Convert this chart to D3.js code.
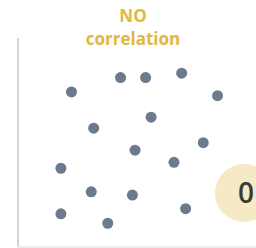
<!DOCTYPE html>
<html>
<head>
<meta charset="utf-8">
<script src="https://cdn.jsdelivr.net/npm/d3@7"></script>
<style>
  html, body { margin: 0; padding: 0; background: #fff; }
  svg { display: block; }
</style>
</head>
<body>
<div id="chart"></div>
<script>
// scatter points
const xs = [2.43, 4.66, 5.80, 7.44, 9.07, 3.44, 6.05, 5.32, 7.09, 8.42, 1.95, 3.33, 5.20, 1.95, 4.08, 7.62];
const ys = [7.05, 7.70, 7.70, 7.90, 6.88, 5.40, 5.90, 4.40, 3.85, 4.74, 3.58, 2.51, 2.36, 1.51, 1.08, 1.74];
const titleLines = ["NO", "correlation"];
const badge = "0";

const width = 256, height = 248;

const svg = d3.select('#chart').append('svg')
    .attr("width", width)
    .attr("height", height);

const x = d3.scaleLinear().domain([0, 10]).range([18, 238]);
const y = d3.scaleLinear().domain([0, 10]).range([247, 27]);

// axes: just the plain lines, no ticks
svg.append("g")
    .attr("transform", "translate(" + x(0) + ",0)")
    .call(d3.axisLeft(y).ticks(0).tickSizeOuter(0))
    .call(g => g.select(".domain").attr("stroke", "#c4c4c4").attr("stroke-width", 1.5)
        .attr("d", "M0," + (y(0)) + "V38"));

svg.append("g")
    .attr("transform", "translate(0," + y(0) + ")")
    .call(d3.axisBottom(x).ticks(0).tickSizeOuter(0))
    .call(g => g.select(".domain").attr("stroke", "#e6e6e6").attr("stroke-width", 1.5)
        .attr("d", "M" + x(0) + ",0H" + width));

svg.selectAll("circle.pt")
    .data(xs.map((v, i) => [v, ys[i]]))
    .enter().append("circle")
    .attr("class", "pt")
    .attr("cx", d => x(d[0]))
    .attr("cy", d => y(d[1]))
    .attr("r", 5.5)
    .attr("fill", "#6b7a8d");

svg.selectAll("text.title")
    .data(titleLines)
    .enter().append("text")
    .attr("class", "title")
    .attr("x", 133)
    .attr("y", (d, i) => 22 + i * 23)
    .attr("text-anchor", "middle")
    .attr("font-family", "'Open Sans', sans-serif")
    .attr("font-weight", 700)
    .attr("font-size", 17)
    .attr("fill", "#e0b83e")
    .text(d => d);

// value badge on the right edge
svg.append("circle")
    .attr("cx", 244)
    .attr("cy", 193)
    .attr("r", 29)
    .attr("fill", "#f6eac6");

svg.append("text")
    .attr("x", 238)
    .attr("y", 203)
    .attr("font-family", "'Open Sans', sans-serif")
    .attr("font-weight", 600)
    .attr("font-size", 28)
    .attr("fill", "#3b3b33")
    .text(badge);
</script>
</body>
</html>
